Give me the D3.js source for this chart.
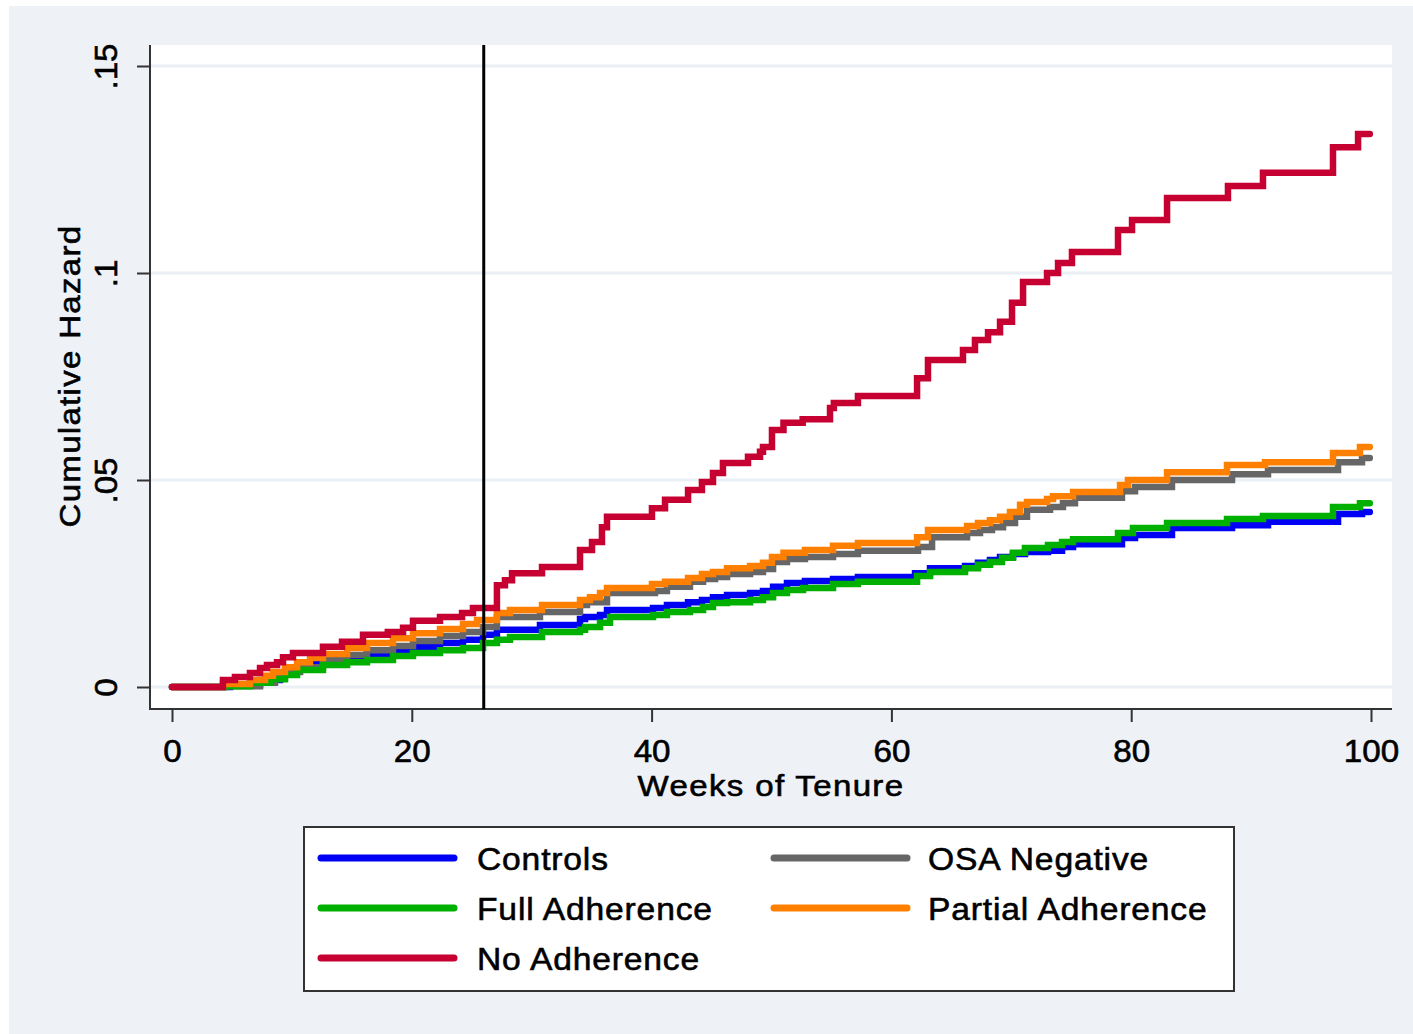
<!DOCTYPE html>
<html>
<head>
<meta charset="utf-8">
<script src="https://cdn.jsdelivr.net/npm/d3@7"></script>
<style>
  html, body { margin: 0; padding: 0; background: #ffffff; }
  svg { display: block; }
  text { font-family: "Liberation Sans", Arial, sans-serif; fill: #000; stroke: #000; stroke-width: 0.6px; }
</style>
</head>
<body>
<svg id="chart" width="1413" height="1034"></svg>
<script>
// ---------------- data ----------------
const xTicks = [0, 20, 40, 60, 80, 100];
const yTicks = [0, 0.05, 0.1, 0.15];
const yTickLabels = ["0", ".05", ".1", ".15"];
const cutoffWeek = 26;

const seriesNames = ["Controls", "OSA Negative", "Full Adherence", "Partial Adherence", "No Adherence"];
const seriesColors = ["#0000f5", "#666666", "#00b000", "#ff8000", "#c60030"];

// [week, cumulative hazard] steps
const controls = [[0,0],[4.84,.0005],[7.34,.0017],[9.01,.0031],[10.09,.0046],[11.51,.0056],[13.18,.0063],[14.6,.0070],[16.26,.0080],[18.43,.0087],[20.1,.0097],[22.35,.0106],[24.27,.0114],[25.94,.0126],[27.1,.0138],[30.69,.0150],[34.03,.0164],[34.45,.0169],[35.7,.0174],[36.28,.0186],[40.12,.0191],[41.28,.0198],[43.04,.0205],[44.2,.0210],[45.12,.0217],[46.29,.0222],[48.21,.0227],[49.29,.0232],[50.13,.0242],[51.29,.0251],[52.79,.0256],[55.13,.0261],[57.21,.0266],[61.97,.0275],[63.22,.0287],[66.14,.0292],[67.22,.0300],[68.22,.0307],[69.06,.0314],[70.14,.0321],[71.14,.0326],[73.06,.0329],[74.23,.0338],[75.15,.0345],[79.23,.0360],[80.32,.0367],[83.4,.0384],[88.41,.0391],[91.41,.0399],[97.25,.0418],[99.25,.0423],[99.9,.0423]];

const osaNegative = [[0,0],[4.25,.0002],[7.34,.0010],[8.59,.0022],[9.42,.0036],[10.68,.0048],[12.59,.0065],[14.6,.0077],[16.26,.0089],[18.43,.0099],[20.1,.0111],[22.35,.0123],[24.27,.0133],[25.94,.0145],[27.1,.0169],[30.69,.0181],[34.03,.0198],[34.61,.0205],[36.28,.0227],[40.28,.0232],[41.28,.0242],[43.2,.0254],[44.29,.0261],[45.29,.0266],[46.29,.0273],[48.21,.0278],[49.29,.0285],[50.13,.0302],[51.29,.0309],[52.79,.0314],[55.13,.0321],[57.21,.0329],[62.22,.0338],[63.39,.0362],[66.31,.0372],[67.39,.0379],[68.39,.0386],[69.31,.0396],[70.31,.0411],[71.31,.0428],[73.23,.0435],[74.31,.0444],[75.31,.0457],[79.23,.0473],[80.32,.0483],[83.4,.0500],[88.41,.0514],[91.41,.0524],[97.25,.0543],[99.25,.0553],[99.9,.0553]];

const fullAdherence = [[0,0],[4.42,.0002],[6.5,.0010],[8.17,.0019],[9.42,.0029],[10.43,.0041],[12.59,.0053],[14.6,.0060],[16.26,.0065],[18.43,.0075],[20.1,.0082],[22.35,.0089],[24.27,.0094],[25.94,.0106],[27.1,.0114],[28.19,.0121],[30.86,.0133],[34.03,.0138],[34.45,.0145],[35.7,.0155],[36.53,.0169],[40.12,.0174],[41.28,.0181],[43.2,.0186],[44.29,.0193],[45.12,.0203],[46.29,.0205],[48.21,.0210],[49.29,.0217],[50.13,.0227],[51.29,.0234],[52.63,.0239],[55.13,.0249],[57.21,.0254],[62.14,.0268],[63.22,.0278],[66.14,.0287],[67.22,.0295],[68.22,.0302],[69.22,.0312],[70.14,.0324],[71.14,.0336],[73.06,.0343],[74.23,.0350],[75.15,.0357],[78.9,.0372],[80.15,.0384],[82.99,.0396],[87.99,.0406],[90.99,.0413],[96.83,.0435],[99.08,.0444],[99.9,.0444]];

const partialAdherence = [[0,0],[4.25,.0007],[6.5,.0017],[7.76,.0027],[8.42,.0036],[9.42,.0048],[10.43,.0060],[11.51,.0070],[12.59,.0080],[14.6,.0094],[16.26,.0106],[18.43,.0118],[20.1,.0130],[22.35,.0140],[24.27,.0152],[25.44,.0162],[27.1,.0179],[28.19,.0186],[30.86,.0198],[34.03,.0210],[34.86,.0217],[35.7,.0227],[36.28,.0239],[40.03,.0249],[41.12,.0254],[43.04,.0263],[44.2,.0273],[45.12,.0278],[46.29,.0287],[48.21,.0292],[49.29,.0300],[50.04,.0314],[51.0,.0324],[52.79,.0331],[55.13,.0341],[57.21,.0348],[62.14,.0362],[63.05,.0379],[66.31,.0389],[67.22,.0396],[68.22,.0403],[69.06,.0411],[69.89,.0423],[70.73,.0440],[71.31,.0447],[72.98,.0454],[73.48,.0461],[75.15,.0471],[79.07,.0488],[79.73,.0500],[82.99,.0519],[87.99,.0536],[91.16,.0543],[96.83,.0565],[99.08,.0580],[99.9,.0580]];

const noAdherence = [[0,0],[4.25,.0017],[5.25,.0024],[6.5,.0034],[7.34,.0046],[7.92,.0053],[8.76,.0060],[9.26,.0072],[10.09,.0082],[12.59,.0097],[14.18,.0109],[15.93,.0126],[18.0,.0133],[19.27,.0143],[20.1,.0160],[22.35,.0169],[24.19,.0179],[25.1,.0191],[27.1,.0246],[27.77,.0258],[28.36,.0275],[30.86,.0290],[34.03,.0331],[35.03,.0350],[35.86,.0386],[36.28,.0411],[40.03,.0432],[41.12,.0452],[43.04,.0476],[44.2,.0495],[45.12,.0517],[45.95,.0541],[48.04,.0556],[49.04,.0568],[49.29,.0580],[50.04,.0621],[51.0,.0638],[52.6,.0647],[54.88,.0674],[55.2,.0686],[57.21,.0703],[62.14,.0746],[63.05,.0790],[65.97,.0814],[66.97,.0838],[68.06,.0857],[69.06,.0882],[70.06,.0928],[70.98,.0978],[72.98,.1000],[73.9,.1024],[75.06,.1051],[78.9,.1104],[80.07,.1128],[82.99,.1181],[88.07,.1210],[90.99,.1242],[96.83,.1304],[98.92,.1336],[99.9,.1336]];

const seriesData = [controls, osaNegative, fullAdherence, partialAdherence, noAdherence];

// ---------------- drawing ----------------
const svg = d3.select("#chart");
const W = 1413, H = 1034;

// outer graph region
svg.append("rect").attr("x", 9).attr("y", 6).attr("width", W - 9).attr("height", H - 6)
  .attr("fill", "#eef2f7");

const plot = { left: 150, right: 1392, top: 45, bottom: 709 };
svg.append("rect").attr("x", plot.left).attr("y", plot.top)
  .attr("width", plot.right - plot.left).attr("height", plot.bottom - plot.top)
  .attr("fill", "#ffffff");

const x = d3.scaleLinear().domain([0, 100]).range([172, 1371]);
const y = d3.scaleLinear().domain([0, 0.15]).range([687, 66]);

// gridlines
svg.append("g").selectAll("line").data(yTicks).join("line")
  .attr("x1", plot.left).attr("x2", plot.right)
  .attr("y1", d => y(d)).attr("y2", d => y(d))
  .attr("stroke", "#eaf0f6").attr("stroke-width", 3);

// y axis
const yAxis = d3.axisLeft(y).tickValues(yTicks).tickSize(13).tickPadding(20)
  .tickFormat((d, i) => yTickLabels[i]);
const gy = svg.append("g").attr("transform", `translate(${plot.left},0)`).call(yAxis);
gy.select(".domain").remove();
gy.selectAll(".tick line").attr("stroke", "#333").attr("stroke-width", 2);
gy.selectAll(".tick text")
  .attr("x", null).attr("dy", null)
  .attr("transform", "translate(-33,0) rotate(-90) scale(1.07,1)")
  .attr("text-anchor", "middle")
  .style("font-size", "31px")
  .attr("fill", "#000");
svg.append("line").attr("x1", plot.left).attr("x2", plot.left)
  .attr("y1", plot.top).attr("y2", plot.bottom + 1)
  .attr("stroke", "#333").attr("stroke-width", 2);

// x axis
const xAxis = d3.axisBottom(x).tickValues(xTicks).tickSize(13).tickPadding(6)
  .tickFormat(d3.format("d"));
const gx = svg.append("g").attr("transform", `translate(0,${plot.bottom})`).call(xAxis);
gx.select(".domain").remove();
gx.selectAll(".tick line").attr("stroke", "#333").attr("stroke-width", 2);
gx.selectAll(".tick text")
  .attr("y", null).attr("dy", null)
  .attr("transform", "translate(0,53) scale(1.07,1)")
  .attr("text-anchor", "middle")
  .style("font-size", "31px")
  .attr("fill", "#000");
svg.append("line").attr("x1", plot.left - 1).attr("x2", plot.right)
  .attr("y1", plot.bottom).attr("y2", plot.bottom)
  .attr("stroke", "#333").attr("stroke-width", 2);

// axis titles
svg.append("text").attr("transform", "translate(771,796) scale(1.12,1)").attr("text-anchor", "middle")
  .style("font-size", "29.5px").style("letter-spacing", "1.2px").text("Weeks of Tenure");
svg.append("text").attr("transform", "translate(80,376) rotate(-90) scale(1.1,1)").attr("text-anchor", "middle")
  .style("font-size", "30px").style("letter-spacing", "1.2px").text("Cumulative Hazard");

// series
const line = d3.line().x(d => x(d[0])).y(d => y(d[1])).curve(d3.curveStepAfter);
svg.append("g").selectAll("path").data(seriesData).join("path")
  .attr("d", d => line(d))
  .attr("fill", "none")
  .attr("stroke", (d, i) => seriesColors[i])
  .attr("stroke-width", 6.5)
  .attr("stroke-linejoin", "miter")
  .attr("stroke-linecap", "round");

// cutoff line
svg.append("line").attr("x1", x(cutoffWeek)).attr("x2", x(cutoffWeek))
  .attr("y1", plot.top).attr("y2", plot.bottom)
  .attr("stroke", "#000").attr("stroke-width", 3);

// legend
const lg = svg.append("g");
lg.append("rect").attr("x", 304).attr("y", 827).attr("width", 930).attr("height", 164)
  .attr("fill", "#ffffff").attr("stroke", "#333").attr("stroke-width", 2);
const legendPos = [
  { kx: 318, tx: 477, ry: 858 },
  { kx: 771, tx: 928, ry: 858 },
  { kx: 318, tx: 477, ry: 908 },
  { kx: 771, tx: 928, ry: 908 },
  { kx: 318, tx: 477, ry: 958 }
];
seriesNames.forEach((name, i) => {
  const p = legendPos[i];
  lg.append("line").attr("x1", p.kx + 3).attr("x2", p.kx + 136)
    .attr("y1", p.ry).attr("y2", p.ry)
    .attr("stroke", seriesColors[i]).attr("stroke-width", 7).attr("stroke-linecap", "round");
  lg.append("text").attr("transform", `translate(${p.tx},${p.ry + 12}) scale(1.05,1)`)
    .style("font-size", "32px").style("letter-spacing", "0.8px").text(name);
});
</script>
</body>
</html>
